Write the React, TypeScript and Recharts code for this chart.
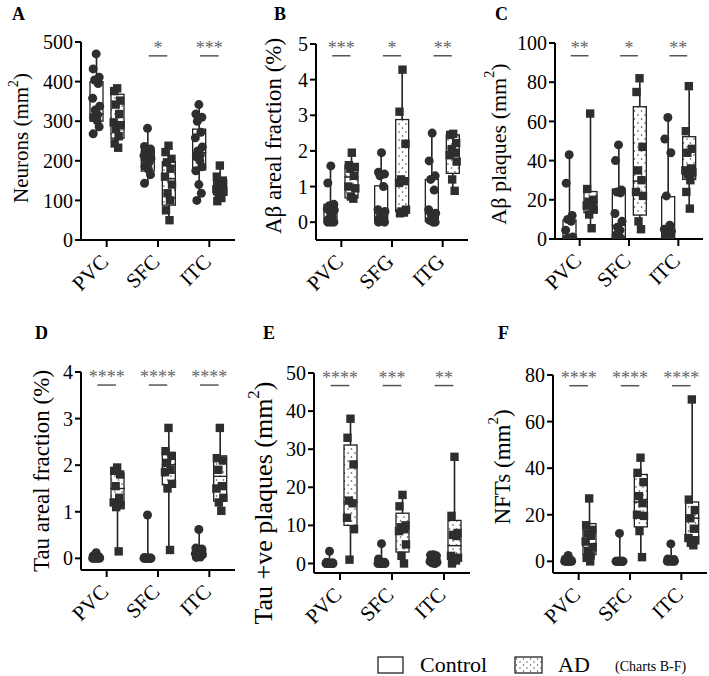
import { ComposedChart, Bar, Scatter, XAxis, YAxis, ReferenceLine } from 'recharts';

const SERIF = '"Liberation Serif", Tinos, "Times New Roman", Times, "DejaVu Serif", serif';
const INK = '#222';
const DOT = '#2e2e2e';

// box stats are [min, q1, median, q3, max] per region

// A - neurons
const A_REGIONS = ['PVC', 'SFC', 'ITC'];
const A_TICKS = [0, 100, 200, 300, 400, 500];
const A_CTRL_BOX = [[268, 300, 318, 400, 470], [143, 174, 202, 227, 282], [100, 177, 221, 280, 342]];
const A_AD_BOX = [[233, 257, 297, 368, 383], [50, 88, 155, 198, 238], [97, 114, 132, 152, 189]];
const A_CTRL_PTS = [
  [470, 432, 411, 404, 395, 358, 338, 328, 316, 310, 301, 286, 268],
  [282, 236, 230, 226, 220, 213, 206, 200, 196, 186, 178, 165, 143],
  [342, 318, 310, 300, 272, 258, 235, 225, 215, 210, 200, 185, 175, 140, 118, 100],
];
const A_AD_PTS = [
  [383, 376, 352, 342, 318, 297, 290, 280, 262, 244, 233],
  [238, 222, 205, 196, 180, 160, 140, 118, 100, 75, 50],
  [188, 160, 150, 141, 134, 128, 122, 116, 106, 98],
];
const A_STARS = ['', '*', '***'];

// B - Aβ areal fraction
const B_REGIONS = ['PVC', 'SFG', 'ITG'];
const B_TICKS = [0, 1, 2, 3, 4, 5];
const B_CTRL_BOX = [[0, 0, 0.3, 0.5, 1.58], [0, 0.02, 0.25, 1.02, 1.95], [0, 0.02, 0.25, 1.2, 2.5]];
const B_AD_BOX = [[0.65, 0.68, 1.27, 1.6, 1.95], [0.25, 0.3, 1.2, 2.88, 4.28], [0.88, 1.37, 1.93, 2.45, 2.5]];
const B_CTRL_PTS = [
  [1.58, 1.1, 0.5, 0.46, 0.42, 0.38, 0.34, 0.3, 0.15, 0.08, 0.03, 0, 0, 0],
  [1.95, 1.4, 1.35, 1.3, 1.0, 0.35, 0.3, 0.25, 0.15, 0.1, 0.05, 0, 0],
  [2.5, 1.72, 1.3, 1.2, 0.9, 0.35, 0.25, 0.22, 0.15, 0.05, 0, 0],
];
const B_AD_PTS = [
  [1.95, 1.6, 1.55, 1.5, 1.3, 1.0, 0.95, 0.72, 0.66],
  [4.28, 3.1, 2.2, 1.2, 1.15, 1.1, 0.35, 0.3, 0.27, 0.25],
  [2.48, 2.45, 2.22, 2.05, 1.95, 1.88, 1.7, 1.2, 0.88],
];
const B_STARS = ['***', '*', '**'];

// C - Aβ plaques
const C_REGIONS = ['PVC', 'SFC', 'ITC'];
const C_TICKS = [0, 20, 40, 60, 80, 100];
const C_CTRL_BOX = [[0, 0, 1, 9.7, 43], [0, 0.5, 7, 25.5, 48], [0, 0.5, 4, 21.6, 62]];
const C_AD_BOX = [[5.5, 13.4, 19, 24.2, 64], [5, 12.2, 29.6, 67.5, 82], [15.5, 30.4, 35.2, 52.2, 78]];
const C_CTRL_PTS = [
  [43, 28.5, 12, 10, 9, 4.5, 1, 0.5, 0, 0],
  [48, 40, 25, 24, 23.5, 13, 9, 6, 4.5, 2, 1, 0, 0],
  [62, 51, 44, 22, 7, 5, 4, 3, 2, 1, 0, 0],
];
const C_AD_PTS = [
  [64, 25.5, 20, 19, 18, 17, 15, 12.5, 5.5],
  [82, 75, 47, 35, 30, 24, 22, 9, 5],
  [78, 55, 46, 44, 36, 35, 34, 33, 30, 24, 15.5],
];
const C_STARS = ['**', '*', '**'];

// D - tau areal fraction
const D_REGIONS = ['PVC', 'SFC', 'ITC'];
const D_TICKS = [0, 1, 2, 3, 4];
const D_CTRL_BOX = [[0, 0, 0, 0.03, 0.12], [0, 0, 0, 0.01, 0.93], [0.02, 0.03, 0.1, 0.2, 0.62]];
const D_AD_BOX = [[0.15, 1.14, 1.5, 1.83, 1.95], [0.18, 1.58, 2.01, 2.27, 2.8], [1.02, 1.23, 1.76, 2.2, 2.8]];
const D_CTRL_PTS = [
  [0.12, 0.05, 0.03, 0.02, 0.01, 0, 0, 0, 0, 0],
  [0.93, 0.02, 0.01, 0, 0, 0, 0, 0, 0, 0],
  [0.62, 0.22, 0.2, 0.18, 0.15, 0.1, 0.08, 0.05, 0.03, 0.02],
];
const D_AD_PTS = [
  [1.95, 1.88, 1.8, 1.55, 1.3, 1.2, 1.14, 1.1, 0.15],
  [2.8, 2.3, 2.2, 2.05, 1.9, 1.85, 1.6, 1.5, 0.18],
  [2.8, 2.15, 2.1, 1.9, 1.55, 1.5, 1.3, 1.2, 1.02],
];
const D_STARS = ['****', '****', '****'];

// E - tau +ve plaques
const E_REGIONS = ['PVC', 'SFC', 'ITC'];
const E_TICKS = [0, 10, 20, 30, 40, 50];
const E_CTRL_BOX = [[0, 0, 0, 0.2, 3.2], [0, 0, 0, 0.5, 5.2], [0, 0.2, 0.5, 1.2, 2.3]];
const E_AD_BOX = [[1, 10, 16.1, 31.1, 38], [0, 3, 9.3, 13.2, 18], [0, 1.9, 4.7, 11.3, 28]];
const E_CTRL_PTS = [
  [3.2, 0.3, 0.2, 0, 0, 0, 0, 0, 0, 0],
  [5.2, 1.2, 0.3, 0, 0, 0, 0, 0, 0],
  [2.3, 2.2, 2.0, 1.5, 1.0, 0.5, 0.3, 0.1, 0],
];
const E_AD_PTS = [
  [38, 33, 26, 16.5, 15.8, 12, 9, 1],
  [18, 15, 10, 9.5, 9, 8.5, 5, 2, 0],
  [28, 12.5, 8, 7.5, 7.2, 2, 1.5, 1, 0.8, 0],
];
const E_STARS = ['****', '***', '**'];

// F - NFTs
const F_REGIONS = ['PVC', 'SFC', 'ITC'];
const F_TICKS = [0, 20, 40, 60, 80];
const F_CTRL_BOX = [[0, 0, 0, 0.2, 2.5], [0, 0, 0, 0.1, 12], [0, 0, 0.3, 0.8, 7.5]];
const F_AD_BOX = [[0, 2.9, 7.6, 16.2, 27], [1.8, 14.8, 25.5, 37.3, 44.5], [6.9, 10.5, 18.6, 25.5, 69.5]];
const F_CTRL_PTS = [
  [2.5, 1, 0.5, 0, 0, 0, 0, 0, 0],
  [12, 0, 0, 0, 0, 0, 0, 0, 0],
  [7.5, 1, 0.8, 0.5, 0.3, 0, 0, 0, 0],
];
const F_AD_PTS = [
  [27, 15.5, 13.5, 12, 11, 8.5, 6, 4.5, 2.5, 1.5, 0],
  [44.5, 38, 34, 28, 25, 20, 19.5, 13, 1.8],
  [69.5, 26.5, 22, 18.5, 14, 10, 9, 8, 6.9],
];
const F_STARS = ['****', '****', '****'];

const BAR = 13;
const GAP = 8;
const Y_AXIS_W = 80;
const TOP_PAD = 10;
// horizontal spread of dots inside a box, px
const JITTER = [0, -3, 3, -1.5, 2, -3.5, 3.5, -1, 1.5, -2.5, 1, 3, -3, 0, 2.5, -2];

const Sup = ({ base, size }: { base: string; size: number }) => (
  <>
    {base}
    <tspan dy={-size * 0.4} fontSize={size * 0.65}>2</tspan>
    <tspan dy={size * 0.4}>)</tspan>
  </>
);

const PANELS = [
  {
    letter: 'A', regions: A_REGIONS, ticks: A_TICKS, domain: [0, 500],
    ctrlBox: A_CTRL_BOX, adBox: A_AD_BOX, ctrlPts: A_CTRL_PTS, adPts: A_AD_PTS, stars: A_STARS, starY: 465,
    label: <Sup base="Neurons (mm" size={21} />, labelSize: 21,
    plotX: 81, plotY: 42, plotW: 154, plotH: 198, labelDist: 60, labelDy: -3, letterX: 12, letterY: 4,
  },
  {
    letter: 'B', regions: B_REGIONS, ticks: B_TICKS, domain: [-0.5, 5],
    ctrlBox: B_CTRL_BOX, adBox: B_AD_BOX, ctrlPts: B_CTRL_PTS, adPts: B_AD_PTS, stars: B_STARS, starY: 4.67,
    label: 'Aβ areal fraction  (%)', labelSize: 23,
    plotX: 316, plotY: 44, plotW: 152, plotH: 196, labelDist: 43, labelDy: -6, letterX: 274, letterY: 4,
  },
  {
    letter: 'C', regions: C_REGIONS, ticks: C_TICKS, domain: [0, 100],
    ctrlBox: C_CTRL_BOX, adBox: C_AD_BOX, ctrlPts: C_CTRL_PTS, adPts: C_AD_PTS, stars: C_STARS, starY: 93.5,
    label: <Sup base="Aβ plaques (mm" size={22} />, labelSize: 22,
    plotX: 555, plotY: 43, plotW: 148, plotH: 196, labelDist: 57, labelDy: 3, letterX: 495, letterY: 4,
  },
  {
    letter: 'D', regions: D_REGIONS, ticks: D_TICKS, domain: [-0.25, 4],
    ctrlBox: D_CTRL_BOX, adBox: D_AD_BOX, ctrlPts: D_CTRL_PTS, adPts: D_AD_PTS, stars: D_STARS, starY: 3.72,
    label: 'Tau areal fraction (%)', labelSize: 23,
    plotX: 81, plotY: 372, plotW: 154, plotH: 198, labelDist: 40, labelDy: 0, letterX: 35, letterY: 323,
  },
  {
    letter: 'E', regions: E_REGIONS, ticks: E_TICKS, domain: [-2.5, 50],
    ctrlBox: E_CTRL_BOX, adBox: E_AD_BOX, ctrlPts: E_CTRL_PTS, adPts: E_AD_PTS, stars: E_STARS, starY: 46.7,
    label: <Sup base="Tau +ve plaques  (mm" size={26} />, labelSize: 26,
    plotX: 314, plotY: 373, plotW: 156, plotH: 200, labelDist: 51, labelDy: 30, letterX: 263, letterY: 323,
  },
  {
    letter: 'F', regions: F_REGIONS, ticks: F_TICKS, domain: [-5, 80],
    ctrlBox: F_CTRL_BOX, adBox: F_AD_BOX, ctrlPts: F_CTRL_PTS, adPts: F_AD_PTS, stars: F_STARS, starY: 75.4,
    label: <Sup base="NFTs (mm" size={23} />, labelSize: 23,
    plotX: 553, plotY: 375, plotW: 154, plotH: 198, labelDist: 51, labelDy: -7, letterX: 498, letterY: 323,
  },
];

const XTick = (props: any) => {
  const { x, y, payload } = props;
  const px = x + 3;
  const py = y + 14;
  return (
    <text x={px} y={py} transform={`rotate(-45, ${px}, ${py})`} textAnchor="end"
      fontSize={21} fontFamily={SERIF} fill="#000">
      {payload.value}
    </text>
  );
};

const noShape = () => <g />;
const whisker = (props: any) => {
  const { x, y, width, height } = props;
  const cx = x + width / 2;
  return <line x1={cx} x2={cx} y1={y} y2={y + height} stroke={INK} strokeWidth={1.6} />;
};
const makeBox = (fill: string) => (props: any) => {
  const { x, y, width, height } = props;
  return <rect x={x} y={y} width={width} height={Math.max(0, height)} fill={fill} stroke={INK} strokeWidth={1.3} />;
};
const circleDot = (props: any) => <circle cx={props.cx} cy={props.cy} r={4.5} fill={DOT} />;
const squareDot = (props: any) => (
  <rect x={props.cx - 4.2} y={props.cy - 4.2} width={8.4} height={8.4} fill={DOT} />
);

function BoxPanel({ p }: { p: any }) {
  const rows = p.regions.map((region: string, i: number) => {
    const c = p.ctrlBox[i];
    const a = p.adBox[i];
    return {
      region,
      cBase: c[0], cLo: c[1] - c[0], cQ1: c[2] - c[1], cQ3: c[3] - c[2], cHi: c[4] - c[3],
      aBase: a[0], aLo: a[1] - a[0], aQ1: a[2] - a[1], aQ3: a[3] - a[2], aHi: a[4] - a[3],
    };
  });
  const band = p.plotW / 3;
  const off = (BAR + GAP) / 2 / band;
  const toPts = (groups: number[][], side: number) =>
    groups.flatMap((vals, i) =>
      vals.map((v, k) => ({ x: i + side * off + JITTER[k % JITTER.length] / band, y: v }))
    );
  const ctrlPts = toPts(p.ctrlPts, -1);
  const adPts = toPts(p.adPts, 1);
  const patId = `dots-${p.letter}`;
  const adFill = `url(#${patId})`;

  const yLabel = (lp: any) => {
    const vb = lp && lp.viewBox ? lp.viewBox : { x: 0, y: TOP_PAD, width: Y_AXIS_W, height: p.plotH };
    const cx = vb.x + vb.width - p.labelDist;
    const cy = vb.y + vb.height / 2 + p.labelDy;
    return (
      <text x={cx} y={cy} transform={`rotate(-90, ${cx}, ${cy})`} textAnchor="middle"
        dominantBaseline="central" fontSize={p.labelSize} fontFamily={SERIF} fill="#000">
        {p.label}
      </text>
    );
  };

  return (
    <div style={{ position: 'absolute', left: p.plotX - Y_AXIS_W, top: p.plotY - TOP_PAD }}>
      <ComposedChart
        width={Y_AXIS_W + p.plotW + 10}
        height={TOP_PAD + p.plotH + 64}
        data={rows}
        margin={{ top: TOP_PAD, right: 10, left: 0, bottom: 0 }}
        barGap={GAP}
        barSize={BAR}
      >
        <defs>
          <pattern id={patId} patternUnits="userSpaceOnUse" width={7} height={8}>
            <rect width={7} height={8} fill="#fff" />
            <circle cx={2} cy={2} r={0.8} fill="#444" />
            <circle cx={5.5} cy={6} r={0.8} fill="#444" />
          </pattern>
        </defs>
        <XAxis
          xAxisId="cat"
          dataKey="region"
          type="category"
          height={64}
          interval={0}
          tickSize={7}
          axisLine={{ stroke: '#000', strokeWidth: 2 }}
          tickLine={{ stroke: '#000', strokeWidth: 2 }}
          tick={<XTick />}
        />
        <XAxis xAxisId="num" dataKey="x" type="number" domain={[-0.5, 2.5]} hide allowDataOverflow />
        <YAxis
          type="number"
          width={Y_AXIS_W}
          domain={p.domain}
          ticks={p.ticks}
          interval={0}
          allowDataOverflow
          tickSize={6}
          axisLine={{ stroke: '#000', strokeWidth: 2 }}
          tickLine={{ stroke: '#000', strokeWidth: 2 }}
          tick={{ fill: '#000', fontSize: 20, fontFamily: SERIF }}
          label={yLabel}
        />
        <Bar xAxisId="cat" dataKey="cBase" stackId="c" shape={noShape} isAnimationActive={false} />
        <Bar xAxisId="cat" dataKey="cLo" stackId="c" shape={whisker} isAnimationActive={false} />
        <Bar xAxisId="cat" dataKey="cQ1" stackId="c" shape={makeBox('#fff')} isAnimationActive={false} />
        <Bar xAxisId="cat" dataKey="cQ3" stackId="c" shape={makeBox('#fff')} isAnimationActive={false} />
        <Bar xAxisId="cat" dataKey="cHi" stackId="c" shape={whisker} isAnimationActive={false} />
        <Bar xAxisId="cat" dataKey="aBase" stackId="a" shape={noShape} isAnimationActive={false} />
        <Bar xAxisId="cat" dataKey="aLo" stackId="a" shape={whisker} isAnimationActive={false} />
        <Bar xAxisId="cat" dataKey="aQ1" stackId="a" shape={makeBox(adFill)} isAnimationActive={false} />
        <Bar xAxisId="cat" dataKey="aQ3" stackId="a" shape={makeBox(adFill)} isAnimationActive={false} />
        <Bar xAxisId="cat" dataKey="aHi" stackId="a" shape={whisker} isAnimationActive={false} />
        {p.stars.map((s: string, i: number) =>
          s ? (
            <ReferenceLine
              key={i}
              xAxisId="num"
              segment={[{ x: i - 0.18, y: p.starY }, { x: i + 0.18, y: p.starY }]}
              stroke="#555"
              strokeWidth={1.5}
              ifOverflow="visible"
              label={{ value: s, position: 'top', offset: 2, fill: '#666', fontSize: 18, fontFamily: SERIF }}
            />
          ) : null
        )}
        <Scatter xAxisId="num" data={ctrlPts} dataKey="y" shape={circleDot} isAnimationActive={false} />
        <Scatter xAxisId="num" data={adPts} dataKey="y" shape={squareDot} isAnimationActive={false} />
      </ComposedChart>
    </div>
  );
}

export default function App() {
  return (
    <div style={{ position: 'absolute', left: 0, top: 0, width: 709, height: 676, background: '#fff', fontFamily: SERIF }}>
      {PANELS.map((p) => (
        <div key={`l${p.letter}`} style={{ position: 'absolute', left: p.letterX, top: p.letterY, fontSize: 18, fontWeight: 'bold', color: '#000' }}>
          {p.letter}
        </div>
      ))}
      {PANELS.map((p) => (
        <BoxPanel key={p.letter} p={p} />
      ))}
      <svg style={{ position: 'absolute', left: 0, top: 636 }} width={709} height={40}>
        <defs>
          <pattern id="dots-legend" patternUnits="userSpaceOnUse" width={7} height={6}>
            <rect width={7} height={6} fill="#fff" />
            <circle cx={2} cy={2} r={0.7} fill="#444" />
            <circle cx={5.5} cy={5} r={0.7} fill="#444" />
          </pattern>
        </defs>
        <rect x={378} y={21} width={25} height={16} fill="#fff" stroke={INK} strokeWidth={1.3} />
        <text x={420} y={36} fontSize={22} fontFamily={SERIF} fill="#000">Control</text>
        <rect x={515} y={21} width={27} height={16} fill="url(#dots-legend)" stroke={INK} strokeWidth={1.3} />
        <text x={558} y={36} fontSize={22} fontFamily={SERIF} fill="#000">AD</text>
        <text x={615} y={35} fontSize={14} fontFamily={SERIF} fill="#000">(Charts B-F)</text>
      </svg>
    </div>
  );
}
